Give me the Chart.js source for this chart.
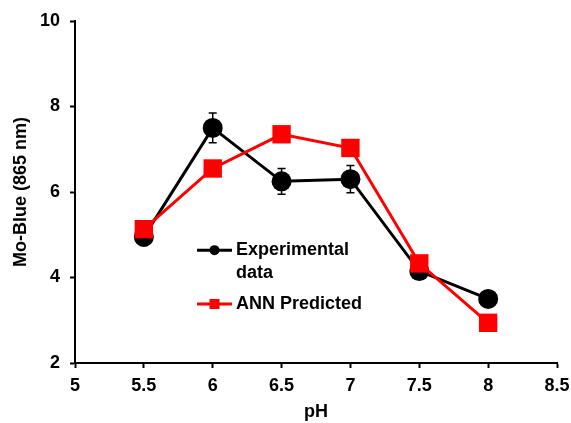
<!DOCTYPE html>
<html>
<head>
<meta charset="utf-8">
<script src="https://cdn.jsdelivr.net/npm/chart.js@4/dist/chart.umd.min.js"></script>
<style>
  html, body { margin: 0; padding: 0; background: #fff; }
  #wrap { width: 571px; height: 423px; }
</style>
</head>
<body>
<div id="wrap"><canvas id="phChart"></canvas></div>
<script>
// data
const phValues = [5.5, 6, 6.5, 7, 7.5, 8];
const experimental = [4.95, 7.5, 6.25, 6.3, 4.15, 3.5];
const experimentalErr = [0.2, 0.35, 0.3, 0.32, 0.1, 0.1];
const annPredicted = [5.13, 6.55, 7.35, 7.03, 4.33, 2.94];
const xTicks = [5, 5.5, 6, 6.5, 7, 7.5, 8, 8.5];
const yTicks = [2, 4, 6, 8, 10];

const FONT = 'Liberation Sans, Arial, sans-serif';

// error bars for the experimental series
const errorBars = {
  id: 'errorBars',
  beforeDatasetsDraw(chart) {
    const ctx = chart.ctx;
    const x = chart.scales.x, y = chart.scales.y;
    ctx.save();
    ctx.strokeStyle = '#000';
    ctx.lineWidth = 1.5;
    phValues.forEach((ph, i) => {
      const px = x.getPixelForValue(ph);
      const top = y.getPixelForValue(experimental[i] + experimentalErr[i]);
      const bot = y.getPixelForValue(experimental[i] - experimentalErr[i]);
      ctx.beginPath();
      ctx.moveTo(px, top); ctx.lineTo(px, bot);
      ctx.moveTo(px - 4, top); ctx.lineTo(px + 4, top);
      ctx.moveTo(px - 4, bot); ctx.lineTo(px + 4, bot);
      ctx.stroke();
    });
    ctx.restore();
  }
};

// legend drawn inside the plot area, anchored on the data scales
const insideLegend = {
  id: 'insideLegend',
  afterDraw(chart) {
    const ctx = chart.ctx;
    const x = chart.scales.x, y = chart.scales.y;
    const x0 = x.getPixelForValue(5.886);
    const rows = [
      { ds: chart.data.datasets[1], lines: ['Experimental', 'data'], y: y.getPixelForValue(4.64) },
      { ds: chart.data.datasets[0], lines: ['ANN Predicted'], y: y.getPixelForValue(3.38) }
    ];
    ctx.save();
    rows.forEach(r => {
      ctx.strokeStyle = r.ds.borderColor;
      ctx.fillStyle = r.ds.backgroundColor;
      ctx.lineWidth = 3;
      ctx.beginPath();
      ctx.moveTo(x0, r.y); ctx.lineTo(x0 + 35, r.y);
      ctx.stroke();
      const cx = x0 + 17.5;
      ctx.beginPath();
      if (r.ds.pointStyle === 'rect') {
        ctx.rect(cx - 5, r.y - 5, 10, 10);
      } else {
        ctx.arc(cx, r.y, 5, 0, Math.PI * 2);
      }
      ctx.fill();
      ctx.fillStyle = '#000';
      ctx.font = 'bold 18px ' + FONT;
      ctx.textBaseline = 'middle';
      r.lines.forEach((t, k) => ctx.fillText(t, x0 + 39, r.y + k * 23));
    });
    ctx.restore();
  }
};

new Chart(document.getElementById('phChart'), {
  type: 'line',
  data: {
    datasets: [{
      label: 'ANN Predicted',
      data: phValues.map((p, i) => ({ x: p, y: annPredicted[i] })),
      borderColor: '#ff0000',
      backgroundColor: '#ff0000',
      borderWidth: 3,
      pointStyle: 'rect',
      pointRadius: 13,
      pointBorderWidth: 0,
      pointHoverRadius: 13,
      tension: 0
    }, {
      label: 'Experimental data',
      data: phValues.map((p, i) => ({ x: p, y: experimental[i] })),
      borderColor: '#000000',
      backgroundColor: '#000000',
      borderWidth: 3,
      pointStyle: 'circle',
      pointRadius: 10,
      pointBorderWidth: 0,
      pointHoverRadius: 10,
      tension: 0
    }]
  },
  options: {
    responsive: true,
    maintainAspectRatio: false,
    animation: false,
    layout: { padding: { top: 21, left: 10, right: 14, bottom: 0 } },
    plugins: { legend: { display: false }, tooltip: { enabled: false } },
    scales: {
      x: {
        type: 'linear',
        min: 5, max: 8.5,
        afterBuildTicks: s => { s.ticks = xTicks.map(v => ({ value: v })); },
        afterFit: s => { s.height = 60; s.paddingLeft = 0; s.paddingRight = 0; },
        grid: { drawOnChartArea: false, tickLength: 5, color: '#000', tickWidth: 2 },
        border: { color: '#000', width: 2 },
        ticks: {
          color: '#000', font: { family: FONT, size: 18, weight: 'bold' }, padding: 7, maxRotation: 0,
          callback: v => String(v)
        },
        title: {
          display: true, text: 'pH', color: '#000', padding: { top: 0, bottom: 0 },
          font: { family: FONT, size: 18, weight: 'bold' }
        }
      },
      y: {
        min: 2, max: 10,
        afterBuildTicks: s => { s.ticks = yTicks.map(v => ({ value: v })); },
        afterFit: s => { s.width = 65; },
        grid: { drawOnChartArea: false, tickLength: 5, color: '#000', tickWidth: 2 },
        border: { color: '#000', width: 2 },
        ticks: { color: '#000', font: { family: FONT, size: 18, weight: 'bold' }, padding: 10 },
        title: {
          display: true, text: 'Mo-Blue (865 nm)', color: '#000', padding: { top: 0, bottom: 0 },
          font: { family: FONT, size: 18, weight: 'bold' }
        }
      }
    }
  },
  plugins: [errorBars, insideLegend]
});
</script>
</body>
</html>
